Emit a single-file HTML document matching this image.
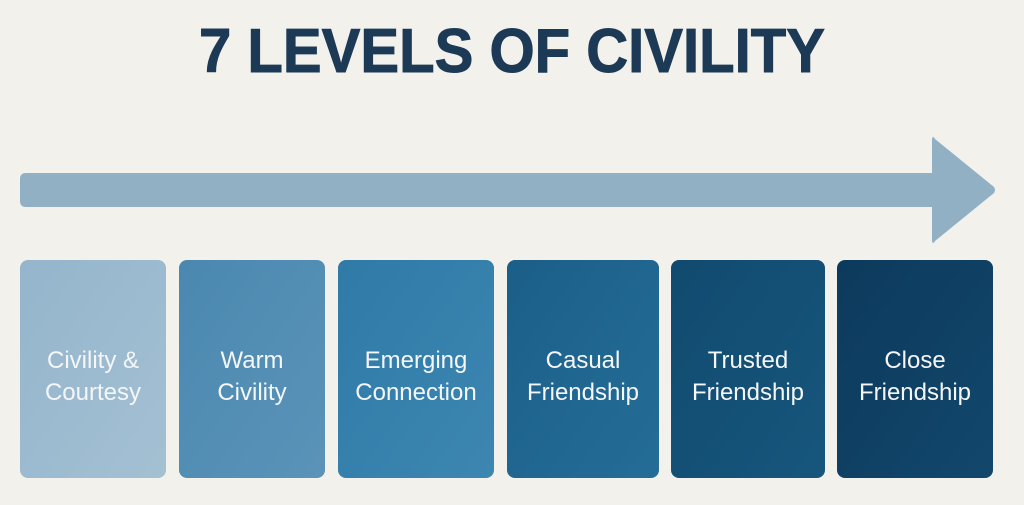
<!DOCTYPE html>
<html><head><style>
html,body{margin:0;padding:0;background:#f3f1ec;}
svg{display:block}
</style></head><body>
<svg width="1024" height="505" viewBox="0 0 1024 505" xmlns="http://www.w3.org/2000/svg">
<defs>
<linearGradient id="g1" x1="0" y1="0" x2="1" y2="1"><stop offset="0" stop-color="#94b5cc"/><stop offset="1" stop-color="#a4c0d3"/></linearGradient>
<linearGradient id="g2" x1="0" y1="0" x2="1" y2="1"><stop offset="0" stop-color="#4a88b0"/><stop offset="1" stop-color="#5b93b8"/></linearGradient>
<linearGradient id="g3" x1="0" y1="0" x2="1" y2="1"><stop offset="0" stop-color="#2f7aa7"/><stop offset="1" stop-color="#3d86b2"/></linearGradient>
<linearGradient id="g4" x1="0" y1="0" x2="1" y2="1"><stop offset="0" stop-color="#1b5f89"/><stop offset="1" stop-color="#246d97"/></linearGradient>
<linearGradient id="g5" x1="0" y1="0" x2="1" y2="1"><stop offset="0" stop-color="#114a6f"/><stop offset="1" stop-color="#17567d"/></linearGradient>
<linearGradient id="g6" x1="0" y1="0" x2="1" y2="1"><stop offset="0" stop-color="#0c3a5d"/><stop offset="1" stop-color="#12476c"/></linearGradient>
</defs>
<text x="512" y="72" text-anchor="middle" textLength="626" lengthAdjust="spacingAndGlyphs" font-family="Liberation Sans, sans-serif" font-weight="bold" font-size="62" fill="#1c3a56" stroke="#1c3a56" stroke-width="1">7 LEVELS OF CIVILITY</text>
<path d="M26 173 H932 V139 Q933 135 935 139 L994 187 Q996 190 994 193 L935 241 Q933 245 932 241 V207 H26 Q20 207 20 201 V179 Q20 173 26 173Z" fill="#92b0c4"/>
<g font-family="Liberation Sans, sans-serif" font-size="24" fill="#f4f6f8" text-anchor="middle">
<rect x="20" y="260" width="146" height="218" rx="8" fill="url(#g1)"/>
<text x="93" y="368">Civility &amp;</text><text x="93" y="400">Courtesy</text>
<rect x="179" y="260" width="146" height="218" rx="8" fill="url(#g2)"/>
<text x="252" y="368">Warm</text><text x="252" y="400">Civility</text>
<rect x="338" y="260" width="156" height="218" rx="8" fill="url(#g3)"/>
<text x="416" y="368">Emerging</text><text x="416" y="400">Connection</text>
<rect x="507" y="260" width="152" height="218" rx="8" fill="url(#g4)"/>
<text x="583" y="368">Casual</text><text x="583" y="400">Friendship</text>
<rect x="671" y="260" width="154" height="218" rx="8" fill="url(#g5)"/>
<text x="748" y="368">Trusted</text><text x="748" y="400">Friendship</text>
<rect x="837" y="260" width="156" height="218" rx="8" fill="url(#g6)"/>
<text x="915" y="368">Close</text><text x="915" y="400">Friendship</text>
</g>
</svg>
</body></html>
